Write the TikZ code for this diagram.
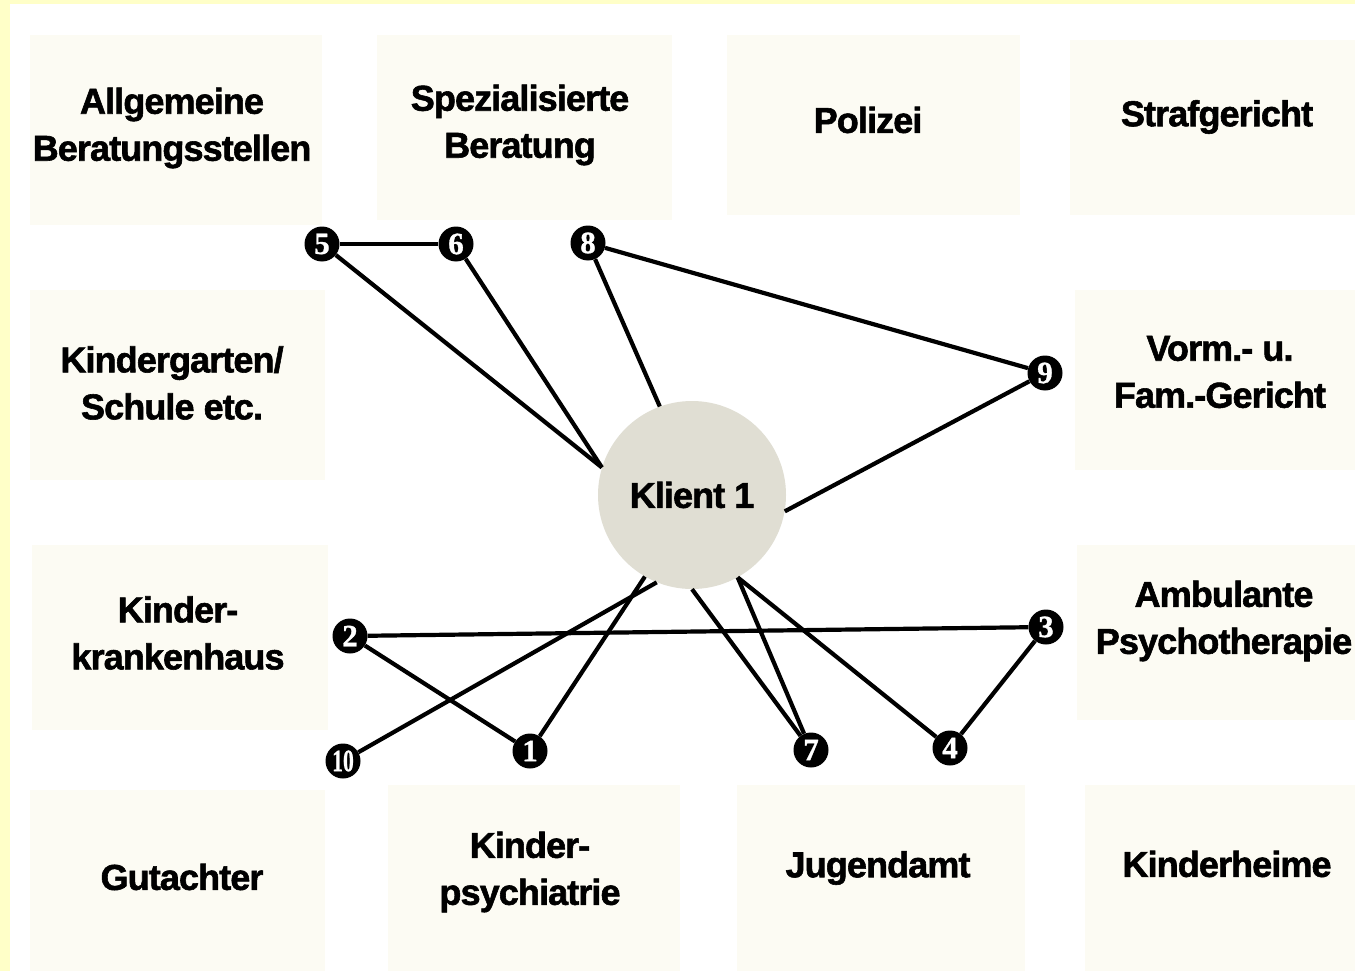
\documentclass[tikz,border=0pt]{standalone}
\usepackage{graphicx}
\usepackage{fontspec}
\setmainfont{Liberation Sans}[LetterSpace=-2.5, BoldFeatures={FakeBold=1.6}]
\newfontfamily\numfont{Liberation Serif}[BoldFeatures={FakeBold=1}]
\definecolor{yel}{RGB}{255,255,200}
\definecolor{boxc}{RGB}{252,251,243}
\definecolor{kc}{RGB}{224,222,211}
\begin{document}
\begin{tikzpicture}[x=1pt,y=-1pt,
  lbl/.style={font=\fontsize{36}{47}\selectfont\bfseries, align=center, inner sep=0pt, text=black},
  area/.style={fill=boxc, draw=none},
  num/.style={circle, fill=black, text=white, minimum size=35pt, inner sep=0pt, font=\numfont\fontsize{31}{31}\selectfont\bfseries},
  link/.style={line width=4.2pt, black}]
\useasboundingbox (0,0) rectangle (1355,971);
\fill[yel] (0,0) rectangle (1355,971);
\fill[white] (10,4) rectangle (1355,971);
% faint areas
\fill[area] (30,35) rectangle (322,225);
\fill[area] (377,35) rectangle (672,220);
\fill[area] (727,35) rectangle (1020,215);
\fill[area] (1070,40) rectangle (1355,215);
\fill[area] (30,290) rectangle (325,480);
\fill[area] (1075,290) rectangle (1355,470);
\fill[area] (32,545) rectangle (328,730);
\fill[area] (1077,545) rectangle (1355,720);
\fill[area] (30,790) rectangle (325,971);
\fill[area] (388,785) rectangle (680,971);
\fill[area] (737,785) rectangle (1025,971);
\fill[area] (1085,785) rectangle (1355,971);
% labels
\node[lbl] (tA) at (172,128) {Allgemeine\\Beratungsstellen};
\node[lbl] (tS) at (520,125) {Spezialisierte\\Beratung};
\node[lbl] (tP) at (868,120) {Polizei};
\node[lbl] (tSt) at (1217,117) {Strafgericht};
\node[lbl] (tK) at (172,383) {Kindergarten/\\Schule etc.};
\node[lbl] (tV) at (1220,372) {Vorm.- u.\\Fam.-Gericht};
\node[lbl] (tKK) at (178,633) {Kinder-\\krankenhaus};
\node[lbl] (tAP) at (1224,621) {Ambulante\\Psychotherapie};
\node[lbl] (tG) at (182,877) {Gutachter};
\node[lbl] (tKP) at (530,872) {Kinder-\\psychiatrie};
\node[lbl] (tJ) at (878,868) {Jugendamt};
\node[lbl] (tKH) at (1227,864) {Kinderheime};
% client
\node[circle, fill=kc, minimum size=188pt, inner sep=0pt, font=\fontsize{36}{36}\selectfont\bfseries] (k) at (692,495) {Klient 1};
% numbered contacts
\node[num] (n5) at (322,244) {5};
\node[num] (n6) at (456,244) {6};
\node[num] (n8) at (588,243) {8};
\node[num] (n9) at (1045,373) {9};
\node[num] (n2) at (350,636) {2};
\node[num] (n3) at (1046,627) {3};
\node[num] (n10) at (343,761) {\scalebox{0.7}[1]{10}};
\node[num] (n1) at (530,751) {1};
\node[num] (n7) at (811,750) {7};
\node[num] (n4) at (950,748) {4};
% connectors
\draw[link] (n5) -- (n6);
\draw[link] (n5) -- (k.163);
\draw[link] (n6) -- (k.163);
\draw[link] (n8) -- (k.110);
\draw[link] (n8) -- (n9);
\draw[link] (n9) -- (k.-10);
\draw[link] (n2) -- (n3);
\draw[link] (n2) -- (n1);
\draw[link] (n1) -- (k.-120);
\draw[link] (n10) -- (k.-112);
\draw[link] (n7) -- (k.-90);
\draw[link] (n7) -- (k.-61);
\draw[link] (n4) -- (k.-61);
\draw[link] (n3) -- (n4);
\end{tikzpicture}
\end{document}
